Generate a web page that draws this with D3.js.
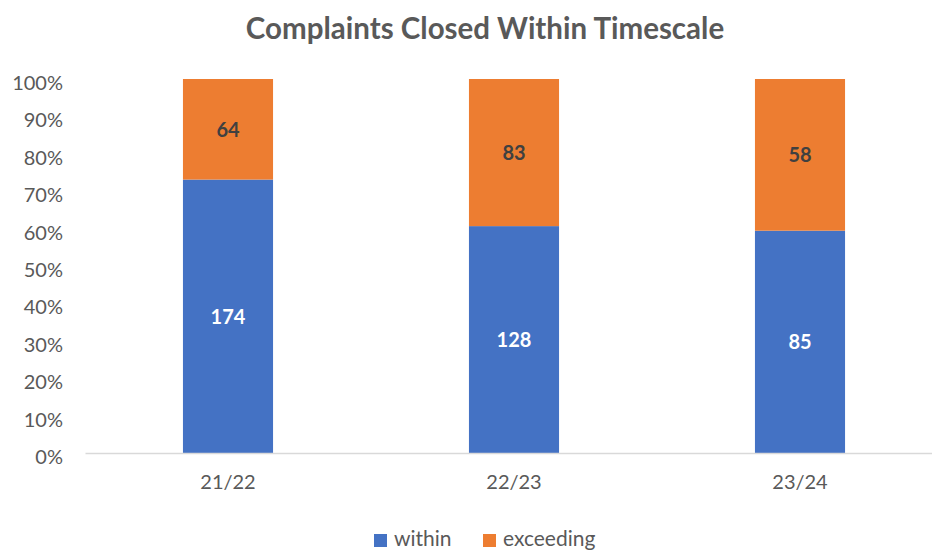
<!DOCTYPE html>
<html>
<head>
<meta charset="utf-8">
<script src="https://cdn.jsdelivr.net/npm/d3@7"></script>
<style>
  body { margin: 0; background: #fff; }
  text { font-family: Lato, "Open Sans", sans-serif; }
</style>
</head>
<body>
<svg id="chart" width="932" height="550"></svg>
<script>
var years = ["21/22", "22/23", "23/24"];
var within = [174, 128, 85];
var exceeding = [64, 83, 58];
var seriesNames = ["within", "exceeding"];
var colors = ["#4472C4", "#ED7D31"];
var tickValues = [0, 0.1, 0.2, 0.3, 0.4, 0.5, 0.6, 0.7, 0.8, 0.9, 1];

var svg = d3.select("#chart");

var rows = years.map(function(y, i) {
  var total = within[i] + exceeding[i];
  return { year: y, within: within[i] / total, exceeding: exceeding[i] / total,
           n: { within: within[i], exceeding: exceeding[i] } };
});

var stack = d3.stack().keys(seriesNames);
var layers = stack(rows);

var x = d3.scaleBand()
  .domain(years)
  .range([85, 943])
  .paddingInner(0.685)
  .paddingOuter(0.3425);

var y = d3.scaleLinear().domain([0, 1]).range([453, 79]);

// title
svg.append("text")
  .attr("x", 485)
  .attr("y", 39)
  .attr("text-anchor", "middle")
  .attr("font-size", 29.5)
  .attr("font-weight", "bold")
  .attr("fill", "#595959")
  .text("Complaints Closed Within Timescale");

// y axis labels
var yAxis = d3.axisLeft(y).tickValues(tickValues).tickFormat(d3.format(".0%")).tickSize(0).tickPadding(0);
var gy = svg.append("g").attr("transform", "translate(63,4)").call(yAxis);
gy.select(".domain").remove();
gy.selectAll("text").attr("font-size", 20).attr("fill", "#595959").attr("font-family", "Lato, sans-serif");

// bars
var g = svg.append("g");
layers.forEach(function(layer, li) {
  g.selectAll(".bar" + li)
    .data(layer)
    .enter().append("rect")
    .attr("x", function(d) { return x(d.data.year); })
    .attr("width", x.bandwidth())
    .attr("y", function(d) { return y(d[1]); })
    .attr("height", function(d) { return y(d[0]) - y(d[1]); })
    .attr("fill", colors[li]);

  g.selectAll(".lab" + li)
    .data(layer)
    .enter().append("text")
    .attr("x", function(d) { return x(d.data.year) + x.bandwidth() / 2; })
    .attr("y", function(d) { return (y(d[0]) + y(d[1])) / 2; })
    .attr("dy", "0.38em")
    .attr("text-anchor", "middle")
    .attr("font-size", 20)
    .attr("font-weight", "bold")
    .attr("fill", li === 0 ? "#ffffff" : "#404040")
    .text(function(d) { return d.data.n[seriesNames[li]]; });
});

// x axis
var xAxis = d3.axisBottom(x).tickSize(0).tickPadding(22);
var gx = svg.append("g").attr("transform", "translate(0,453)").call(xAxis);
gx.select(".domain").attr("stroke", "#d9d9d9").attr("stroke-width", 1.5);
gx.selectAll("text").attr("font-size", 20).attr("fill", "#595959").attr("font-family", "Lato, sans-serif").attr("dy", "0.71em");

// legend
var legendX = [374, 483];
var lg = svg.append("g");
seriesNames.forEach(function(s, i) {
  lg.append("rect")
    .attr("x", legendX[i]).attr("y", 534)
    .attr("width", 13).attr("height", 13)
    .attr("fill", colors[i]);
  lg.append("text")
    .attr("x", legendX[i] + 20).attr("y", 546)
    .attr("font-size", 21)
    .attr("fill", "#595959")
    .text(s);
});
</script>
</body>
</html>
